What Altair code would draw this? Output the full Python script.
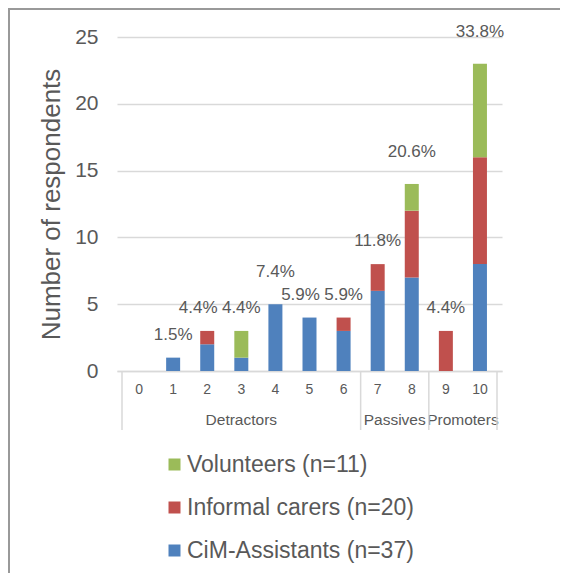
import altair as alt
import pandas as pd

# ---- data ----
scores = [0, 1, 2, 3, 4, 5, 6, 7, 8, 9, 10]
cim_assistants = [0, 1, 2, 1, 5, 4, 3, 6, 7, 0, 8]
informal_carers = [0, 0, 1, 0, 0, 0, 1, 2, 5, 3, 8]
volunteers = [0, 0, 0, 2, 0, 0, 0, 0, 2, 0, 7]
series_names = ["Volunteers (n=11)", "Informal carers (n=20)", "CiM-Assistants (n=37)"]
series_colors = ["#9BBB59", "#C0504D", "#4F81BD"]
group_names = ["Detractors", "Passives", "Promoters"]
group_first = [0, 7, 9]
group_last = [6, 8, 10]

# label placement tweaks (styling, as in the reference)
labels_nudged_left = [2, 5]
labels_raised = [4, 8, 10]

FONT = "Liberation Sans"
TXT = "#595959"
W, H = 385, 334
PAD_L, PAD_T, PAD_R, PAD_B = 109, 29, 58, 202

# ---- tables ----
rows = []
for s, c, i, v in zip(scores, cim_assistants, informal_carers, volunteers):
    for name, val, idx in [(series_names[2], c, 0), (series_names[1], i, 1), (series_names[0], v, 2)]:
        if val > 0:
            rows.append({"score": s, "series": name, "count": val, "stack": idx})
bars_df = pd.DataFrame(rows)

totals = [c + i + v for c, i, v in zip(cim_assistants, informal_carers, volunteers)]
grand = sum(totals)
pct_df = pd.DataFrame(
    [{"score": s, "total": t, "label": f"{t / grand * 100:.1f}%",
      "left": s in labels_nudged_left, "raised": s in labels_raised}
     for s, t in zip(scores, totals) if t > 0]
)
score_df = pd.DataFrame({"score": scores, "label": [str(s) for s in scores]})
grp_df = pd.DataFrame(
    {"center": [(a + b) / 2 for a, b in zip(group_first, group_last)], "name": group_names}
)
sep_df = pd.DataFrame({"b": [group_first[0] - 0.5] + [b + 0.5 for b in group_last]})

xscale = alt.Scale(domain=[-0.5, 10.5], nice=False, zero=False)
yscale = alt.Scale(domain=[0, 25], nice=False)

bars = alt.Chart(bars_df).mark_bar(size=14).encode(
    x=alt.X("score:Q", scale=xscale,
            axis=alt.Axis(labels=False, ticks=False, grid=False, title=None,
                          domainColor="#d9d9d9", domainWidth=1.5)),
    y=alt.Y("count:Q", stack="zero", scale=yscale,
            axis=alt.Axis(values=[0, 5, 10, 15, 20, 25], domain=False, ticks=False,
                          grid=True, gridColor="#d9d9d9", gridWidth=1.5,
                          labelFont=FONT, labelFontSize=21, labelColor=TXT, labelPadding=19,
                          title="Number of respondents", titleFont=FONT, titleFontSize=26,
                          titleColor=TXT, titleFontWeight="normal", titleAngle=270,
                          titleX=-66, titleY=167, titleAlign="center", titleBaseline="middle")),
    color=alt.Color("series:N",
                    scale=alt.Scale(domain=series_names, range=series_colors),
                    legend=alt.Legend(orient="none", legendX=46, legendY=416, title=None,
                                      symbolType="square", symbolSize=144, symbolStrokeWidth=0,
                                      labelFont=FONT, labelFontSize=23, labelColor=TXT,
                                      labelLimit=0, labelOffset=1, rowPadding=19, padding=0)),
    order=alt.Order("stack:Q"),
)


def pct_layer(cond, dx, dy):
    return alt.Chart(pct_df).transform_filter(cond).mark_text(
        font=FONT, fontSize=17, color=TXT, baseline="middle", dx=dx, dy=dy
    ).encode(x=alt.X("score:Q", scale=xscale), y=alt.Y("total:Q", scale=yscale), text="label:N")


pct_normal = pct_layer("!datum.left && !datum.raised", 0, -23)
pct_left = pct_layer("datum.left", -9, -23)
pct_high = pct_layer("datum.raised", 0, -32)

score_labels = alt.Chart(score_df).mark_text(font=FONT, fontSize=14, color=TXT, baseline="middle").encode(
    x=alt.X("score:Q", scale=xscale), y=alt.value(H + 19), text="label:N"
)

group_labels = alt.Chart(grp_df).mark_text(font=FONT, fontSize=15.5, color=TXT, baseline="middle").encode(
    x=alt.X("center:Q", scale=xscale), y=alt.value(H + 49), text="name:N"
)

seps = alt.Chart(sep_df).mark_rule(color="#d9d9d9", strokeWidth=1.5).encode(
    x=alt.X("b:Q", scale=xscale), y=alt.value(H), y2=alt.value(H + 59)
)

# outer chart frame: only its top and left edges fall inside the page
frame = alt.Chart(pd.DataFrame({"a": [0]})).mark_rect(
    fill="transparent", stroke="#999999", strokeWidth=2
).encode(
    x=alt.value(-PAD_L + 1), x2=alt.value(W + PAD_R + 40),
    y=alt.value(-PAD_T + 1), y2=alt.value(H + PAD_B + 40),
)

chart = alt.layer(
    frame, bars, pct_normal, pct_left, pct_high, score_labels, group_labels, seps
).properties(
    width=W, height=H,
    autosize=alt.AutoSizeParams(type="none"),
    padding={"left": PAD_L, "top": PAD_T, "right": PAD_R, "bottom": PAD_B},
).configure_view(strokeWidth=0)

chart.save("out.html", embed_options={"renderer": "svg", "actions": False})
